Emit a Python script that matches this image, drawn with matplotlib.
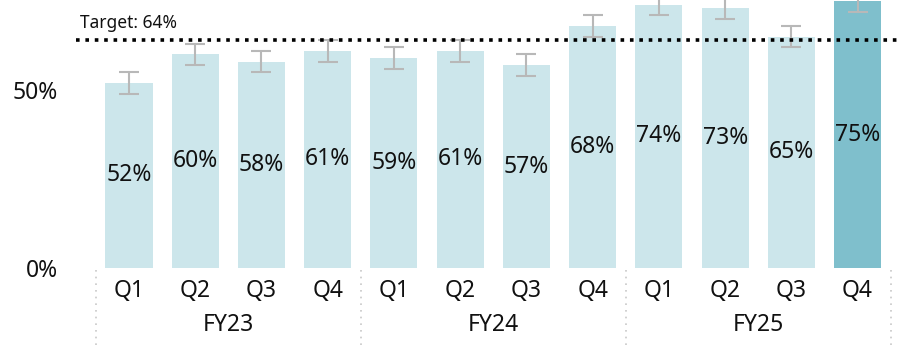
import matplotlib
matplotlib.use("Agg")
import matplotlib.pyplot as plt
import matplotlib.transforms as mtransforms

plt.rcParams['font.family'] = ['Noto Sans', 'DejaVu Sans']

# Quarterly results by fiscal year
years = ["FY23", "FY24", "FY25"]
quarters = ["Q1", "Q2", "Q3", "Q4"]
values = [52, 60, 58, 61, 59, 61, 57, 68, 74, 73, 65, 75]
errors = [3, 3, 3, 3, 3, 3, 3, 3, 3, 3, 3, 3]
target = 64

light = "#cce6eb"
dark = "#7fbfcc"
text_col = "#111111"

fig = plt.figure(figsize=(9.02, 3.47), dpi=100)
W, H = 902, 347
ax = fig.add_axes([76 / W, (H - 268) / H, (W - 76) / W, 268 / H])

n = len(values)
xs = list(range(n))
colors = [light] * (n - 1) + [dark]
ax.bar(xs, values, width=0.71, color=colors, zorder=2)
ax.errorbar(xs, values, yerr=errors, fmt="none", ecolor="#b8b8b8",
            elinewidth=1.5, capsize=7, capthick=1.5, zorder=3)

for x, v in zip(xs, values):
    ax.text(x, v / 2, f"{v}%", ha="center", va="center", fontsize=16.5,
            color=text_col, zorder=4)

ax.axhline(target, color="black", linestyle=(0, (1, 1.6)), linewidth=2.6,
           zorder=5)
ax.text(-0.74, target + 2.3, f"Target: {target}%", ha="left", va="bottom",
        fontsize=12.5, color=text_col)

ax.set_xlim(-0.8, 11.67)
ax.set_ylim(0, 75.3)
ax.set_yticks([0, 50])
ax.set_yticklabels(["0%", "50%"], fontsize=16.5, color=text_col)
ax.tick_params(axis="y", length=0, pad=13)

ax.set_xticks(xs)
ax.set_xticklabels(quarters * len(years), fontsize=16.5, color=text_col)
ax.tick_params(axis="x", length=0, pad=8)

for s in ax.spines.values():
    s.set_visible(False)

# Fiscal-year group labels and dotted separators
trans = mtransforms.blended_transform_factory(ax.transData, ax.transAxes)
px = 1 / 268
for i, y in enumerate(years):
    ax.text(i * 4 + 1.5, -57 * px, y, ha="center", va="center",
            fontsize=16.5, color=text_col, transform=trans)
for b in [-0.5, 3.5, 7.5, 11.5]:
    ax.plot([b, b], [-2 * px, -80 * px], transform=trans, clip_on=False,
            color="#c8c8c8", linestyle=(0, (1, 3)), linewidth=1.2)

fig.savefig("out.png", dpi=100)
